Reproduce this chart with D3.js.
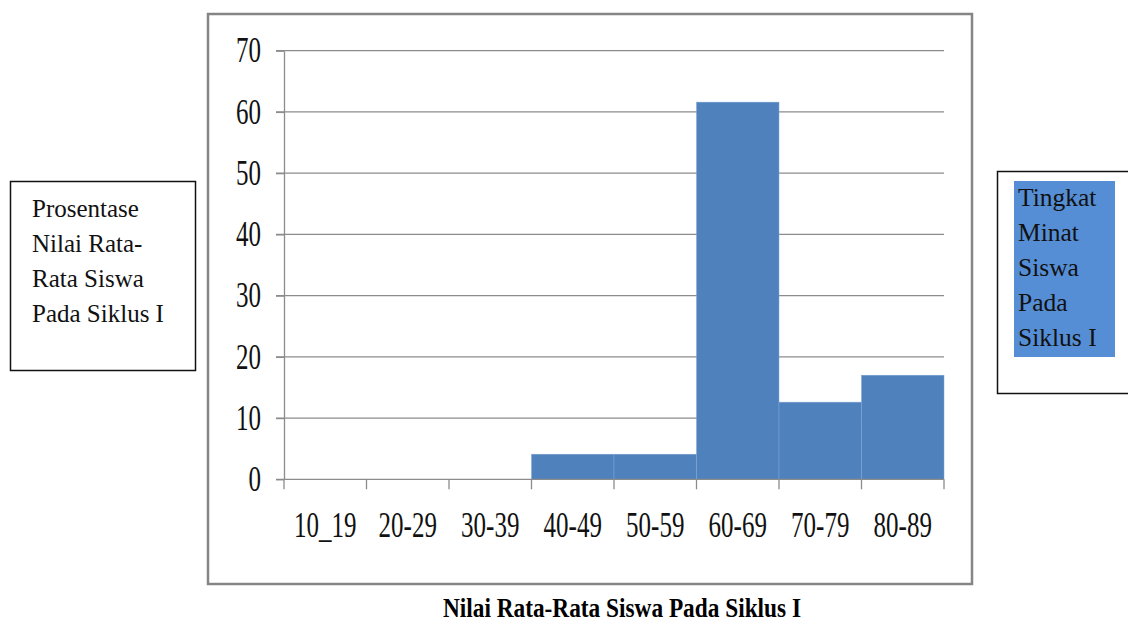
<!DOCTYPE html>
<html>
<head>
<meta charset="utf-8">
<script src="https://cdn.jsdelivr.net/npm/d3@7"></script>
<style>
  html, body { margin: 0; padding: 0; background: #fff; }
  svg { display: block; }
  svg text { font-family: "Liberation Serif", "Times New Roman", "DejaVu Serif", serif; }
</style>
</head>
<body>
<svg id="chart" width="1128" height="626"></svg>
<script>
// Score ranges and the percentage of students in each range
const categories = ["10_19", "20-29", "30-39", "40-49", "50-59", "60-69", "70-79", "80-89"];
const percentages = [0, 0, 0, 4.1, 4.1, 61.6, 12.6, 17.0];
const yTicks = [0, 10, 20, 30, 40, 50, 60, 70];
const xTitle = "Nilai Rata-Rata Siswa Pada Siklus I";
const leftNote = ["Prosentase", "Nilai Rata-", "Rata Siswa", "Pada Siklus I"];
const rightNote = ["Tingkat", "Minat", "Siswa", "Pada", "Siklus I"];

const svg = d3.select("#chart");
const plot = { left: 284, right: 944, top: 50.7, bottom: 479.3 };
const gridColor = "#8c8c8c";
const textStretch = 1.4;

const x = d3.scaleBand().domain(categories).range([plot.left, plot.right]).padding(0);
const y = d3.scaleLinear().domain([0, 70]).range([plot.bottom, plot.top]);

// Chart frame
svg.append("rect")
  .attr("x", 208).attr("y", 14).attr("width", 764).attr("height", 570)
  .attr("fill", "none").attr("stroke", "#858585").attr("stroke-width", 2.5);

// Horizontal gridlines
svg.append("g").selectAll("line").data(yTicks.filter(d => d > 0)).join("line")
  .attr("x1", plot.left - 8).attr("x2", plot.right)
  .attr("y1", d => y(d)).attr("y2", d => y(d))
  .attr("stroke", gridColor).attr("stroke-width", 1.3);

// Bars (histogram style, no gaps)
svg.append("g").selectAll("rect").data(categories.map((c, i) => ({ c, v: percentages[i] })).filter(d => d.v > 0))
  .join("rect")
  .attr("x", d => x(d.c)).attr("width", x.bandwidth())
  .attr("y", d => y(d.v)).attr("height", d => y(0) - y(d.v))
  .attr("fill", "#4F81BD").attr("stroke", "#7FA6D6").attr("stroke-width", 0.5);

// Y axis
const yAxis = svg.append("g").attr("transform", `translate(${plot.left},0)`)
  .call(d3.axisLeft(y).tickValues(yTicks).tickSize(8).tickSizeOuter(0).tickPadding(15));
yAxis.attr("font-family", null);
yAxis.select(".domain").attr("stroke", gridColor).attr("stroke-width", 1.3);
yAxis.selectAll(".tick line").attr("stroke", gridColor).attr("stroke-width", 1.3);
yAxis.selectAll(".tick text")
  .attr("font-size", 25).attr("fill", "#111")
  .attr("transform", `scale(1,${textStretch})`);

// X axis line and boundary ticks
svg.append("line")
  .attr("x1", plot.left - 8).attr("x2", plot.right)
  .attr("y1", y(0)).attr("y2", y(0))
  .attr("stroke", gridColor).attr("stroke-width", 1.3);
const bounds = categories.map(c => x(c)).concat([x.range()[1]]);
svg.append("g").selectAll("line").data(bounds).join("line")
  .attr("x1", d => d).attr("x2", d => d)
  .attr("y1", y(0)).attr("y2", y(0) + 10)
  .attr("stroke", gridColor).attr("stroke-width", 1.3);

// Category labels
const xAxis = svg.append("g").attr("transform", `translate(0,${y(0)})`)
  .call(d3.axisBottom(x).tickSize(0).tickPadding(0));
xAxis.attr("font-family", null);
xAxis.select(".domain").remove();
xAxis.selectAll(".tick text")
  .attr("font-size", 25).attr("fill", "#111")
  .attr("y", 0).attr("dy", 0)
  .attr("transform", `translate(0,57.4) scale(1,${textStretch})`);

// Axis title
svg.append("text")
  .attr("x", 443).attr("y", 617)
  .attr("font-size", 27).attr("font-weight", "bold").attr("fill", "#000")
  .attr("textLength", 358).attr("lengthAdjust", "spacingAndGlyphs")
  .text(xTitle);

// Left note box
svg.append("rect")
  .attr("x", 10.5).attr("y", 181.5).attr("width", 185).attr("height", 189)
  .attr("fill", "#fff").attr("stroke", "#111").attr("stroke-width", 1.5);
svg.append("g").selectAll("text").data(leftNote).join("text")
  .attr("x", 32).attr("y", (d, i) => 217 + i * 35)
  .attr("font-size", 25).attr("fill", "#111")
  .text(d => d);

// Right note box
svg.append("rect")
  .attr("x", 997.5).attr("y", 171.5).attr("width", 150).attr("height", 222)
  .attr("fill", "#fff").attr("stroke", "#111").attr("stroke-width", 1.5);
svg.append("rect")
  .attr("x", 1014).attr("y", 181).attr("width", 101).attr("height", 176)
  .attr("fill", "#558ED5");
svg.append("g").selectAll("text").data(rightNote).join("text")
  .attr("x", 1018).attr("y", (d, i) => 206 + i * 35)
  .attr("font-size", 25.5).attr("fill", "#111")
  .text(d => d);
</script>
</body>
</html>
